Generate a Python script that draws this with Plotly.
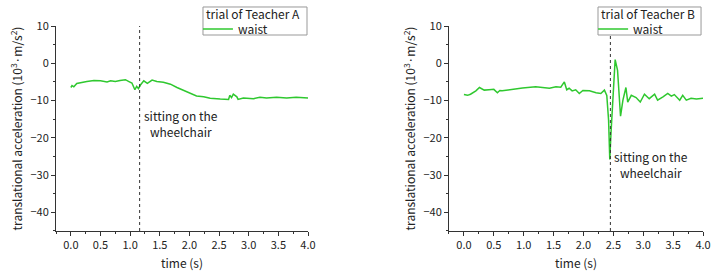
import plotly.graph_objects as go

# Teacher A (waist)
time_A = [0.0, 0.02, 0.05, 0.1, 0.27, 0.39, 0.5, 0.61, 0.67, 0.75, 0.83, 0.92, 0.98, 1.03, 1.08,
          1.11, 1.14, 1.17, 1.23, 1.29, 1.37, 1.45, 1.56, 1.68, 1.79, 1.9, 2.01, 2.12, 2.24, 2.35,
          2.52, 2.66, 2.68, 2.71, 2.74, 2.8, 2.82, 2.91, 3.08, 3.19, 3.3, 3.47, 3.64, 3.8, 4.0]
acc_A = [-6.5, -6.0, -6.3, -5.4, -4.9, -4.6, -4.7, -5.0, -4.7, -4.9, -4.6, -4.4, -4.9, -5.3, -7.1,
         -6.2, -6.8, -5.9, -4.7, -5.4, -4.5, -4.9, -5.1, -5.6, -6.5, -7.2, -8.1, -8.75, -9.0, -9.4,
         -9.6, -9.7, -8.6, -9.2, -8.3, -9.0, -9.7, -9.3, -9.5, -9.1, -9.3, -9.1, -9.3, -9.1, -9.3]

# Teacher B (waist)
time_B = [0.0, 0.06, 0.11, 0.2, 0.26, 0.34, 0.42, 0.5, 0.56, 0.6, 0.64, 0.76, 0.98, 1.2, 1.31,
          1.43, 1.54, 1.62, 1.68, 1.72, 1.76, 1.81, 1.87, 1.93, 1.99, 2.1, 2.21, 2.29, 2.35, 2.39,
          2.42, 2.44, 2.46, 2.48, 2.5, 2.53, 2.57, 2.62, 2.66, 2.71, 2.74, 2.8, 2.88, 2.95, 3.02,
          3.1, 3.19, 3.24, 3.33, 3.41, 3.47, 3.52, 3.61, 3.66, 3.72, 3.8, 3.89, 4.0]
acc_B = [-8.4, -8.6, -8.3, -7.4, -6.5, -7.2, -7.1, -7.0, -7.9, -7.3, -7.4, -7.1, -6.6, -6.3, -6.5,
         -6.7, -6.3, -6.4, -5.0, -7.1, -6.7, -7.4, -7.1, -8.1, -7.3, -7.4, -7.9, -8.1, -7.2, -8.6,
         -15.3, -25.8, -18.8, -12.6, -5.4, 1.0, -1.9, -14.2, -9.9, -6.5, -10.4, -8.6, -9.2, -10.4, -8.3,
         -9.5, -8.3, -9.9, -9.0, -8.1, -8.8, -8.4, -9.9, -8.6, -9.9, -9.4, -9.6, -9.4]

event_time_A = 1.16
event_time_B = 2.45
event_label = "sitting on the<br>wheelchair"
legend_titles = ["trial of Teacher A", "trial of Teacher B"]
series_name = "waist"
x_ticks = [0.0, 0.5, 1.0, 1.5, 2.0, 2.5, 3.0, 3.5, 4.0]
y_ticks = [10, 0, -10, -20, -30, -40]

FONT = "Noto Sans CJK JP"
GREEN = "#2fc82f"
AX = "#333333"

fig = go.Figure()
fig.add_trace(go.Scatter(x=time_A, y=acc_A, mode="lines", name=series_name,
                         line=dict(color=GREEN, width=1.5), xaxis="x", yaxis="y", legend="legend"))
fig.add_trace(go.Scatter(x=time_B, y=acc_B, mode="lines", name=series_name,
                         line=dict(color=GREEN, width=1.5), xaxis="x2", yaxis="y2", legend="legend2"))

xcommon = dict(range=[-0.25, 4.0], tickvals=x_ticks, ticktext=[f"{v:.1f}" for v in x_ticks],
               ticks="outside", ticklen=4, tickcolor=AX, showline=True, linecolor=AX, linewidth=1,
               showgrid=False, zeroline=False, tickfont=dict(size=11, color="#222"), automargin=False,
               minor=dict(dtick=0.25, tick0=0, ticks="outside", ticklen=2, tickcolor=AX),
               title=dict(text="time (s)", font=dict(size=12, color="#222")))
ycommon = dict(range=[-45, 10], tickvals=y_ticks, ticks="outside", ticklen=4, tickcolor=AX,
               showline=True, linecolor=AX, linewidth=1, showgrid=False, zeroline=False,
               tickfont=dict(size=11, color="#222"), automargin=False,
               minor=dict(dtick=5, tick0=0, ticks="outside", ticklen=2, tickcolor=AX),
               title=dict(text="translational acceleration (10<sup>3</sup>·m/s<sup>2</sup>)",
                          font=dict(size=12, color="#222")))

legend_common = dict(xanchor="left", yanchor="middle", borderwidth=0, bgcolor="rgba(0,0,0,0)",
                     font=dict(size=12, color="#222"), tracegroupgap=0, itemwidth=30)

fig.update_layout(
    template="none",
    width=712, height=271, margin=dict(l=0, r=0, t=0, b=0, autoexpand=False),
    paper_bgcolor="white", plot_bgcolor="white",
    font=dict(family=FONT, size=11, color="#222"),
    xaxis=dict(domain=[0.0787, 0.4326], anchor="y", **xcommon),
    yaxis=dict(domain=[0.1476, 0.904], anchor="x", **ycommon),
    xaxis2=dict(domain=[0.6306, 0.9874], anchor="y2", **xcommon),
    yaxis2=dict(domain=[0.1476, 0.904], anchor="x2", **ycommon),
    legend=dict(x=0.278, y=0.893, **legend_common),
    legend2=dict(x=0.833, y=0.893, **legend_common),
    showlegend=True,
)

# event markers (dotted verticals)
for xr, yr, t in [("x", "y", event_time_A), ("x2", "y2", event_time_B)]:
    fig.add_shape(type="line", xref=xr, yref=f"{yr} domain", x0=t, x1=t, y0=0, y1=1,
                  line=dict(color="#333", width=1, dash="dot"))

# legend frames and titles
for (x0, x1), title in zip([(0.2851, 0.4312), (0.8399, 0.9846)], legend_titles):
    fig.add_shape(type="rect", xref="paper", yref="paper", x0=x0, x1=x1, y0=0.8708, y1=0.9742,
                  line=dict(color="#999", width=1), fillcolor="white", layer="above")
    fig.add_annotation(x=x0, y=0.952, xref="paper", yref="paper", text=title, showarrow=False,
                       xanchor="left", yanchor="middle", xshift=1, font=dict(size=12, color="#222"))

fig.add_annotation(x=event_time_A, y=-11.3, xref="x", yref="y", text=event_label, showarrow=False,
                   xanchor="left", yanchor="top", xshift=2, align="center",
                   font=dict(size=12, color="#222"))
fig.add_annotation(x=event_time_B, y=-22.3, xref="x2", yref="y2", text=event_label, showarrow=False,
                   xanchor="left", yanchor="top", xshift=2, align="center",
                   font=dict(size=12, color="#222"))

fig.write_html("out.html", config={"displayModeBar": False},
               post_script="document.body.style.margin='0';document.body.style.overflow='hidden';")
